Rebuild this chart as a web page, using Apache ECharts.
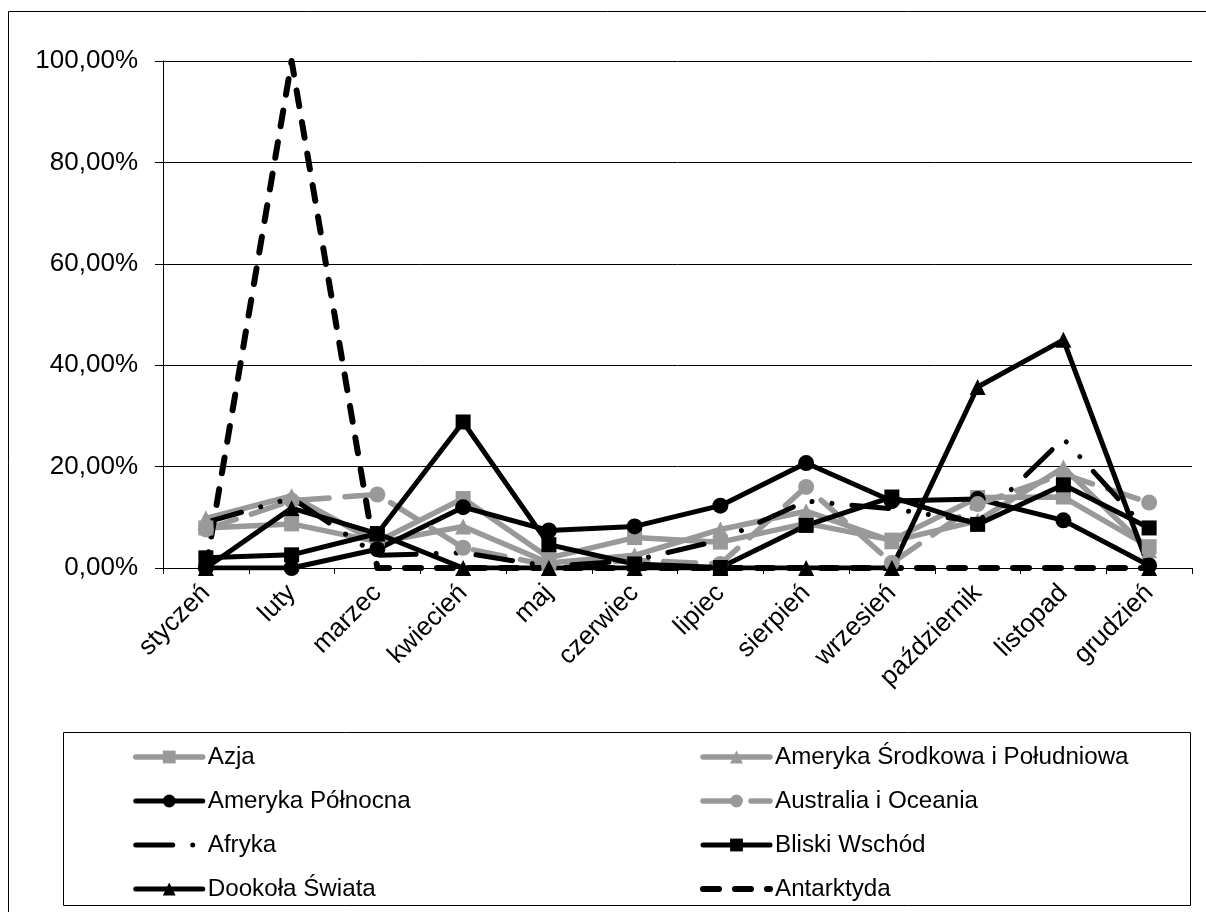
<!DOCTYPE html>
<html>
<head>
<meta charset="utf-8">
<script src="https://cdn.jsdelivr.net/npm/echarts@6/dist/echarts.min.js"></script>
<style>
  html, body { margin: 0; padding: 0; background: #ffffff; }
  #chart { width: 1206px; height: 912px; }
</style>
</head>
<body>
<div id="chart"></div>
<script>
// Months on the category axis
const categories = ['styczeń', 'luty', 'marzec', 'kwiecień', 'maj', 'czerwiec',
  'lipiec', 'sierpień', 'wrzesień', 'październik', 'listopad', 'grudzień'];

// Monthly shares per destination, in percent
const azja = [7.9, 8.7, 5.2, 13.7, 2.0, 6.0, 5.1, 8.8, 5.5, 13.9, 14.0, 4.2];
const amerykaSrodkowa = [9.8, 14.2, 5.0, 8.2, 1.0, 2.5, 7.6, 11.2, 5.3, 9.3, 19.8, 3.5];
const amerykaPolnocna = [0, 0, 3.7, 12.0, 7.4, 8.2, 12.3, 20.7, 13.2, 13.6, 9.4, 0.5];
const australia = [7.6, 13.3, 14.5, 4.0, 0.5, 1.5, 0.8, 16.0, 1.0, 12.6, 18.5, 12.9];
const afryka = [9.0, 13.8, 2.5, 3.0, 0.3, 1.5, 5.5, 13.2, 11.7, 9.0, 25.5, 7.0];
const bliskiWschod = [2.0, 2.6, 6.8, 28.8, 4.6, 0.8, 0.1, 8.4, 14.0, 8.6, 16.4, 7.9];
const dookolaSwiata = [0, 11.8, 6.8, 0, 0, 0, 0, 0, 0, 35.7, 45.0, 0];
const antarktyda = [0, 100, 0, 0, 0, 0, 0, 0, 0, 0, 0, 0];

// Value axis ticks
const yMin = 0, yMax = 100, yStep = 20;

const GRAY = '#999999';
const BLACK = '#000000';
const FONT = "'Liberation Sans', Arial, sans-serif";

const DASH_AUSTRALIA = [32, 16];
const DASH_AFRYKA = [37, 20, 0.01, 20, 0.01, 20];
const DASH_ANTARKTYDA = [16, 16];

function line(name, data, color, width, symbol, size, dash) {
  return {
    name: name,
    type: 'line',
    data: data,
    symbol: symbol,
    symbolSize: size,
    showSymbol: symbol !== 'none',
    itemStyle: { color: color, borderWidth: 0 },
    lineStyle: { color: color, width: width, type: dash || 'solid', cap: 'round', join: 'round' },
    emphasis: { disabled: true },
    animation: false
  };
}

const series = [
  line('Azja', azja, GRAY, 5.5, 'rect', 15),
  line('Ameryka Środkowa i Południowa', amerykaSrodkowa, GRAY, 5.5, 'triangle', 16),
  line('Ameryka Północna', amerykaPolnocna, BLACK, 5, 'circle', 16),
  line('Australia i Oceania', australia, GRAY, 5.5, 'circle', 16, DASH_AUSTRALIA),
  line('Afryka', afryka, BLACK, 5, 'none', 0, DASH_AFRYKA),
  line('Bliski Wschód', bliskiWschod, BLACK, 5, 'rect', 15),
  line('Dookoła Świata', dookolaSwiata, BLACK, 5, 'triangle', 16),
  line('Antarktyda', antarktyda, BLACK, 6, 'none', 0, DASH_ANTARKTYDA)
];

// Legend entries carry the same stroke as their series
function entry(name, color, width, dash, noMarker) {
  const item = {
    name: name,
    lineStyle: { color: color, width: width, type: dash || 'solid', cap: 'round' }
  };
  if (noMarker) item.itemStyle = { opacity: 0 };
  return item;
}

const legendText = { fontFamily: FONT, fontSize: 24.2, color: '#000', lineHeight: 28 };
function legendColumn(left, items) {
  return {
    orient: 'vertical',
    left: left,
    top: 743,
    padding: 0,
    itemWidth: 67,
    itemHeight: 16,
    itemGap: 16,
    selectedMode: false,
    textStyle: legendText,
    data: items
  };
}

const chart = echarts.init(document.getElementById('chart'), null, { renderer: 'canvas' });
chart.setOption({
  backgroundColor: '#ffffff',
  animation: false,
  grid: { left: 163, right: 14, top: 61, bottom: 344, containLabel: false },
  xAxis: {
    type: 'category',
    data: categories,
    boundaryGap: true,
    axisLine: { lineStyle: { color: BLACK, width: 1 } },
    axisTick: { show: true, length: 6, lineStyle: { color: BLACK } },
    axisLabel: { rotate: 45, margin: 21, fontFamily: FONT, fontSize: 26, color: BLACK, interval: 0 },
    splitLine: { show: false }
  },
  yAxis: {
    type: 'value',
    min: yMin,
    max: yMax,
    interval: yStep,
    axisLine: { show: true, lineStyle: { color: BLACK, width: 1 } },
    axisTick: { show: true, length: 8, inside: false, lineStyle: { color: BLACK } },
    axisLabel: {
      margin: 25, fontFamily: FONT, fontSize: 26, color: BLACK,
      formatter: v => v.toFixed(2).replace('.', ',') + '%'
    },
    splitLine: { show: true, lineStyle: { color: BLACK, width: 1 } }
  },
  legend: [
    legendColumn(133, [
      entry('Azja', GRAY, 5.5),
      entry('Ameryka Północna', BLACK, 5),
      entry('Afryka', BLACK, 5, DASH_AFRYKA, true),
      entry('Dookoła Świata', BLACK, 5)
    ]),
    legendColumn(700, [
      entry('Ameryka Środkowa i Południowa', GRAY, 5.5),
      entry('Australia i Oceania', GRAY, 5.5, DASH_AUSTRALIA),
      entry('Bliski Wschód', BLACK, 5),
      entry('Antarktyda', BLACK, 6, DASH_ANTARKTYDA, true)
    ])
  ],
  graphic: [
    { type: 'rect', silent: true, z: -10,
      shape: { x: 8.5, y: 11.5, width: 1220, height: 920 },
      style: { fill: 'none', stroke: '#000', lineWidth: 1 } },
    { type: 'rect', silent: true, z: -10,
      shape: { x: 63.5, y: 732.5, width: 1127, height: 173 },
      style: { fill: 'none', stroke: '#000', lineWidth: 1 } }
  ],
  series: series
});
</script>
</body>
</html>
